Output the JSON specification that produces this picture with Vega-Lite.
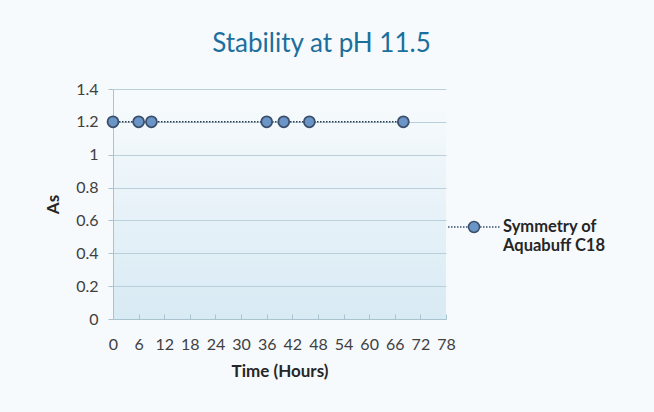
{
  "$schema": "https://vega.github.io/schema/vega-lite/v6.json",
  "width": 333,
  "height": 230,
  "autosize": {"type": "none"},
  "padding": {"left": 113, "top": 89, "right": 208, "bottom": 93},
  "background": "#f7fafd",
  "title": {
    "text": "Stability at pH 11.5",
    "font": "Lato",
    "fontSize": 26,
    "fontWeight": "normal",
    "color": "#1b6f9c",
    "anchor": "middle",
    "dx": 42,
    "offset": 24
  },
  "data": {
    "values": [
      {"time": 0, "as": 1.2, "series": "Symmetry of Aquabuff C18"},
      {"time": 6, "as": 1.2, "series": "Symmetry of Aquabuff C18"},
      {"time": 9, "as": 1.2, "series": "Symmetry of Aquabuff C18"},
      {"time": 36, "as": 1.2, "series": "Symmetry of Aquabuff C18"},
      {"time": 40, "as": 1.2, "series": "Symmetry of Aquabuff C18"},
      {"time": 46, "as": 1.2, "series": "Symmetry of Aquabuff C18"},
      {"time": 68, "as": 1.2, "series": "Symmetry of Aquabuff C18"}
    ]
  },
  "encoding": {
    "x": {
      "field": "time",
      "type": "quantitative",
      "scale": {"domain": [0, 78], "nice": false},
      "axis": {
        "title": "Time (Hours)",
        "values": [0, 6, 12, 18, 24, 30, 36, 42, 48, 54, 60, 66, 72, 78],
        "grid": false,
        "tickSize": -5,
        "labelPadding": 22,
        "labelOverlap": false,
        "labelFlush": false,
        "titlePadding": 11
      }
    },
    "y": {
      "field": "as",
      "type": "quantitative",
      "scale": {"domain": [0, 1.4], "nice": false},
      "axis": {
        "title": "As",
        "values": [0, 0.2, 0.4, 0.6, 0.8, 1, 1.2, 1.4],
        "format": ".1~f",
        "grid": true,
        "tickSize": 5,
        "labelPadding": 10,
        "labelOverlap": false,
        "labelFlush": false,
        "titlePadding": 13
      }
    }
  },
  "layer": [
    {
      "mark": {"type": "line", "stroke": "#2b3a52", "strokeWidth": 1.5, "strokeDash": [1.5, 1.5]}
    },
    {
      "mark": {"type": "circle", "size": 120, "opacity": 1, "stroke": "#3b4f6b", "strokeWidth": 1.8},
      "encoding": {
        "fill": {
          "field": "series",
          "type": "nominal",
          "scale": {"range": ["#6b95c6"]},
          "legend": {
            "title": null,
            "orient": "none",
            "legendX": 350,
            "legendY": 127,
            "symbolType": "M-2.6,0h0.15m0.15,0h0.15m0.15,0h0.15m0.15,0h0.15m0.15,0h0.15m0.15,0h0.15m0.15,0h0.15M0.6,0h0.15m0.15,0h0.15m0.15,0h0.15m0.15,0h0.15m0.15,0h0.15m0.15,0h0.15m0.15,0h0.15M-0.55,0a0.55,0.55 0 1,0 1.1,0a0.55,0.55 0 1,0 -1.1,0",
            "symbolSize": 400,
            "symbolStrokeColor": "#3b4f6b",
            "symbolStrokeWidth": 1.5,
            "symbolFillColor": "#6b95c6",
            "labelOffset": 18,
            "labelExpr": "['Symmetry of', 'Aquabuff C18']",
            "labelFont": "Lato",
            "labelFontSize": 16.5,
            "labelFontWeight": "bold",
            "labelColor": "#262626",
            "labelLimit": 200
          }
        }
      }
    }
  ],
  "config": {
    "view": {
      "stroke": null,
      "fill": {
        "gradient": "linear",
        "x1": 0, "y1": 0, "x2": 0, "y2": 1,
        "stops": [
          {"offset": 0, "color": "#f8fbfd"},
          {"offset": 1, "color": "#d8eaf4"}
        ]
      }
    },
    "axis": {
      "labelFont": "Lato",
      "labelFontSize": 16,
      "labelColor": "#404040",
      "titleFont": "Lato",
      "titleFontSize": 17,
      "titleFontWeight": "bold",
      "titleColor": "#262626",
      "domainColor": "#a9c4ce",
      "tickColor": "#a9c4ce",
      "gridColor": "#b7d0da",
      "gridWidth": 1
    }
  }
}
